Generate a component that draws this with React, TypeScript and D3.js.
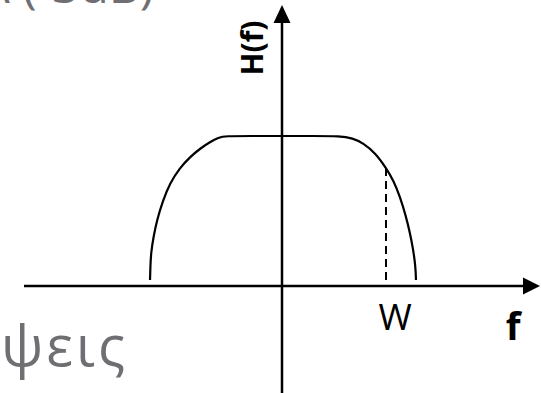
import React from "react";
import * as d3 from "d3";

// Frequency (in units of W) and normalised magnitude
const freq = [-1.269, -1.266, -1.26, -1.235, -1.202, -1.145, -1.077, -0.985, -0.885, -0.78, -0.692, -0.61, -0.548, -0.3, 0, 0.3, 0.558, 0.68, 0.779, 0.9, 1.0, 1.075, 1.135, 1.19, 1.231, 1.262, 1.279, 1.286, 1.288];
const gain = [0.04, 0.12, 0.22, 0.33, 0.44, 0.57, 0.687, 0.785, 0.86, 0.92, 0.96, 0.99, 1, 1, 1, 1, 1, 0.985, 0.953, 0.885, 0.787, 0.7, 0.593, 0.47, 0.353, 0.24, 0.153, 0.09, 0.04];
const bandEdge = 1.0; // W
const bandEdgeGain = 0.787;
const floorGain = 0.04;

const labels = { y: "H(f)", x: "f", w: "W", top: "Α (-3dB)", bottom: "ψεις" };

const W = 541;
const H = 393;

export default function App() {
  const x = d3.scaleLinear().domain([0, 1]).range([282, 386]);
  const y = d3.scaleLinear().domain([0, 1]).range([286, 136]);
  const pts: [number, number][] = freq.map((f, i) => [f, gain[i]]);
  const line = d3
    .line<[number, number]>()
    .x((d) => x(d[0]))
    .y((d) => y(d[1]))
    .curve(d3.curveBasis);

  const x0 = x(0);
  const y0 = y(0);
  const xLeft = 24;
  const xRight = 540;
  const yTop = 5;

  return (
    <svg
      width={W}
      height={H}
      style={{ position: "absolute", left: 0, top: 0, background: "#fff" }}
      fontFamily="'Open Sans', sans-serif"
    >
      <rect width={W} height={H} fill="#fff" />
      <text x={154} y={3} textAnchor="end" fontSize={48} fill="#6f6e73">
        {labels.top}
      </text>
      <text x={1} y={366} fontSize={56} fill="#6f6e73" letterSpacing={3}>
        {labels.bottom}
      </text>

      {/* axes */}
      <line x1={xLeft} x2={xRight - 14} y1={y0} y2={y0} stroke="#000" strokeWidth={2.5} />
      <path d={`M${xRight},${y0} L${xRight - 17},${y0 - 8.5} L${xRight - 17},${y0 + 8.5} Z`} fill="#000" />
      <line x1={x0} x2={x0} y1={H} y2={yTop + 14} stroke="#000" strokeWidth={2.5} />
      <path d={`M${x0},${yTop} L${x0 - 8.5},${yTop + 18} L${x0 + 8.5},${yTop + 18} Z`} fill="#000" />

      {/* curve */}
      <path d={line(pts) || ""} fill="none" stroke="#000" strokeWidth={2.2} />
      <line
        x1={x(bandEdge)}
        x2={x(bandEdge)}
        y1={y(floorGain)}
        y2={y(bandEdgeGain)}
        stroke="#000"
        strokeWidth={2}
        strokeDasharray="8,5"
      />

      <text x={x(bandEdge) + 9} y={330} textAnchor="middle" fontSize={36}>
        {labels.w}
      </text>
      <text x={513} y={340} textAnchor="middle" fontSize={38} fontWeight="bold">
        {labels.x}
      </text>
      <text
        transform={`translate(263,48) rotate(-90)`}
        textAnchor="middle"
        fontSize={30}
        fontWeight="bold"
      >
        {labels.y}
      </text>
    </svg>
  );
}
